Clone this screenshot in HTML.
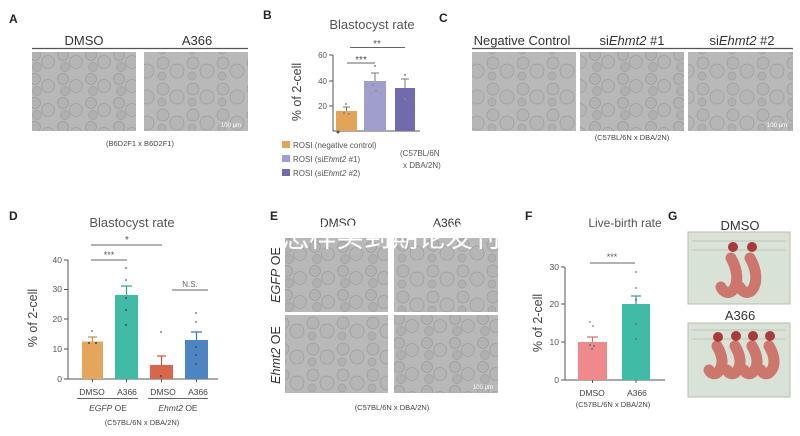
<!DOCTYPE html>
<html><head><meta charset="utf-8"><style>
html,body{margin:0;padding:0;background:#fff;}
svg{display:block;}
text{font-family:"Liberation Sans","Noto Sans CJK SC",sans-serif;}
</style></head><body>
<svg width="800" height="436" viewBox="0 0 800 436" xmlns="http://www.w3.org/2000/svg">
<defs>
<pattern id="emb" width="28" height="24" patternUnits="userSpaceOnUse">
<rect width="28" height="24" fill="#b8b8b8"/>
<circle cx="7" cy="7" r="5.5" fill="#b2b2b2" stroke="#9c9c9c" stroke-width="0.7"/>
<circle cx="20" cy="14" r="6.5" fill="#b5b5b5" stroke="#9e9e9e" stroke-width="0.7"/>
<circle cx="9" cy="19" r="4.5" fill="#afafaf" stroke="#a0a0a0" stroke-width="0.7"/>
</pattern>
<pattern id="emb2" width="30" height="26" patternUnits="userSpaceOnUse" patternTransform="translate(5,3)">
<rect width="30" height="26" fill="#b9b9b9"/>
<circle cx="8" cy="8" r="6" fill="#b4b4b4" stroke="#9c9c9c" stroke-width="0.7"/>
<circle cx="22" cy="16" r="7" fill="#b6b6b6" stroke="#9c9c9c" stroke-width="0.7"/>
<circle cx="7" cy="21" r="4" fill="#b0b0b0" stroke="#a0a0a0" stroke-width="0.7"/>
</pattern>
</defs>

<!-- Panel A -->
<text x="9" y="23" font-size="12" font-weight="bold" fill="#222">A</text>
<text x="84" y="45" font-size="13" fill="#333" text-anchor="middle">DMSO</text>
<text x="197" y="45" font-size="13" fill="#333" text-anchor="middle">A366</text>
<line x1="32" y1="48.5" x2="248" y2="48.5" stroke="#555" stroke-width="1.2"/>
<rect x="32" y="52" width="104" height="79" fill="url(#emb)"/>
<rect x="144" y="52" width="104" height="79" fill="url(#emb2)"/>
<text x="231" y="127" font-size="6" fill="#fff" text-anchor="middle">100 μm</text>
<text x="140" y="146" font-size="7.5" fill="#444" text-anchor="middle">(B6D2F1 x B6D2F1)</text>

<!-- Panel B -->
<text x="263" y="19" font-size="12" font-weight="bold" fill="#222">B</text>
<text x="372" y="29" font-size="13" fill="#555" text-anchor="middle">Blastocyst rate</text>
<text transform="translate(301,92) rotate(-90)" font-size="12.5" fill="#444" text-anchor="middle">% of 2-cell</text>
<g stroke="#555" stroke-width="1">
<line x1="333" y1="55" x2="333" y2="131"/>
<line x1="329" y1="55" x2="333" y2="55"/>
<line x1="329" y1="81" x2="333" y2="81"/>
<line x1="329" y1="106" x2="333" y2="106"/>
<line x1="333" y1="131" x2="420" y2="131"/>
</g>
<g font-size="8" fill="#555" text-anchor="end">
<text x="327" y="58">60</text><text x="327" y="84">40</text><text x="327" y="109">20</text>
</g>
<rect x="336" y="111" width="21" height="20" fill="#e4a458"/>
<rect x="364" y="81" width="22" height="50" fill="#a09fcc"/>
<rect x="395" y="88" width="20" height="43" fill="#6f6cae"/>
<g stroke="#777" stroke-width="1">
<line x1="346.5" y1="111" x2="346.5" y2="107"/><line x1="343" y1="107" x2="350" y2="107"/>
<line x1="375" y1="81" x2="375" y2="73"/><line x1="371" y1="73" x2="379" y2="73"/>
<line x1="405" y1="88" x2="405" y2="79"/><line x1="401" y1="79" x2="409" y2="79"/>
</g>
<g fill="#888">
<circle cx="346" cy="104" r="1"/><circle cx="344" cy="113" r="1"/><circle cx="349" cy="114" r="1"/>
<circle cx="375" cy="66" r="1"/><circle cx="373" cy="85" r="1"/><circle cx="376" cy="91" r="1"/>
<circle cx="405" cy="75" r="1"/><circle cx="405" cy="99" r="1"/>
<circle cx="338" cy="132" r="1.5" fill="#555"/>
</g>
<line x1="347" y1="63" x2="375" y2="63" stroke="#666" stroke-width="1"/>
<text x="361" y="63" font-size="10" fill="#555" text-anchor="middle">***</text>
<line x1="350" y1="47.5" x2="405" y2="47.5" stroke="#666" stroke-width="1"/>
<text x="377" y="47" font-size="10" fill="#555" text-anchor="middle">**</text>
<rect x="282" y="141" width="8" height="7" fill="#e4a458"/>
<rect x="282" y="155" width="8" height="7" fill="#a09fcc"/>
<rect x="282" y="169" width="8" height="7" fill="#6f6cae"/>
<g font-size="8" fill="#555">
<text x="293" y="148">ROSI (negative control)</text>
<text x="293" y="162">ROSI (si<tspan font-style="italic">Ehmt2</tspan> #1)</text>
<text x="293" y="176">ROSI (si<tspan font-style="italic">Ehmt2</tspan> #2)</text>
<text x="400" y="156">(C57BL/6N</text>
<text x="403" y="168">x DBA/2N)</text>
</g>

<!-- Panel C -->
<text x="439" y="22" font-size="12" font-weight="bold" fill="#222">C</text>
<text x="522" y="45" font-size="13" fill="#333" text-anchor="middle">Negative Control</text>
<text x="632" y="45" font-size="13" fill="#333" text-anchor="middle">si<tspan font-style="italic">Ehmt2</tspan> #1</text>
<text x="742" y="45" font-size="13" fill="#333" text-anchor="middle">si<tspan font-style="italic">Ehmt2</tspan> #2</text>
<line x1="472" y1="48.5" x2="793" y2="48.5" stroke="#555" stroke-width="1.2"/>
<rect x="472" y="52" width="104" height="79" fill="url(#emb2)"/>
<rect x="580" y="52" width="104" height="79" fill="url(#emb)"/>
<rect x="688" y="52" width="105" height="79" fill="url(#emb2)"/>
<text x="777" y="127" font-size="6" fill="#fff" text-anchor="middle">100 μm</text>
<text x="632" y="140" font-size="7.5" fill="#444" text-anchor="middle">(C57BL/6N x DBA/2N)</text>

<!-- Panel D -->
<text x="9" y="220" font-size="12" font-weight="bold" fill="#222">D</text>
<text x="132" y="227" font-size="13" fill="#555" text-anchor="middle">Blastocyst rate</text>
<text transform="translate(37,318) rotate(-90)" font-size="12.5" fill="#444" text-anchor="middle">% of 2-cell</text>
<g stroke="#555" stroke-width="1">
<line x1="68" y1="260" x2="68" y2="379"/>
<line x1="64" y1="260" x2="68" y2="260"/><line x1="64" y1="289.5" x2="68" y2="289.5"/>
<line x1="64" y1="319" x2="68" y2="319"/><line x1="64" y1="349" x2="68" y2="349"/>
<line x1="64" y1="379" x2="68" y2="379"/>
<line x1="68" y1="379" x2="218" y2="379"/>
<line x1="92.5" y1="379" x2="92.5" y2="382"/><line x1="126.5" y1="379" x2="126.5" y2="382"/>
<line x1="161.5" y1="379" x2="161.5" y2="382"/><line x1="196.5" y1="379" x2="196.5" y2="382"/>
</g>
<g font-size="8.5" fill="#555" text-anchor="end">
<text x="62" y="263">40</text><text x="62" y="292">30</text><text x="62" y="322">20</text>
<text x="62" y="352">10</text><text x="62" y="382">0</text>
</g>
<rect x="82" y="341.5" width="21" height="37.5" fill="#e3a65c"/>
<rect x="115" y="295" width="23" height="84" fill="#40bba6"/>
<rect x="150" y="365" width="23" height="14" fill="#d9664b"/>
<rect x="185" y="340" width="23" height="39" fill="#4c84c4"/>
<g stroke-width="1.2">
<line x1="92.5" y1="341.5" x2="92.5" y2="337" stroke="#c68a40"/><line x1="88" y1="337" x2="97" y2="337" stroke="#c68a40"/>
<line x1="126.5" y1="295" x2="126.5" y2="286" stroke="#2e9f8c"/><line x1="121" y1="286" x2="132" y2="286" stroke="#2e9f8c"/>
<line x1="161.5" y1="365" x2="161.5" y2="356" stroke="#c8553c"/><line x1="157" y1="356" x2="166" y2="356" stroke="#c8553c"/>
<line x1="196.5" y1="340" x2="196.5" y2="332" stroke="#3d72b0"/><line x1="191" y1="332" x2="202" y2="332" stroke="#3d72b0"/>
</g>
<g fill="#555">
<circle cx="92" cy="331" r="1.1" fill="#999"/><circle cx="89" cy="343" r="1.1"/><circle cx="96" cy="343" r="1.1"/>
<circle cx="126" cy="268" r="1.1" fill="#999"/><circle cx="126" cy="280" r="1.1" fill="#999"/><circle cx="126" cy="298" r="1.1"/>
<circle cx="126" cy="310" r="1.1"/><circle cx="126" cy="325" r="1.1"/>
<circle cx="161" cy="332" r="1.1" fill="#999"/><circle cx="161" cy="376" r="1.1"/>
<circle cx="196" cy="313" r="1.1" fill="#999"/><circle cx="196" cy="322" r="1.1" fill="#999"/><circle cx="196" cy="347" r="1.1"/>
<circle cx="196" cy="355" r="1.1"/><circle cx="196" cy="364" r="1.1"/>
</g>
<g stroke="#666" stroke-width="1">
<line x1="91" y1="260" x2="127" y2="260"/>
<line x1="91" y1="245" x2="162" y2="245"/>
<line x1="172" y1="290" x2="208" y2="290"/>
</g>
<text x="109" y="258" font-size="9" fill="#555" text-anchor="middle">***</text>
<text x="127" y="243" font-size="10" fill="#555" text-anchor="middle">*</text>
<text x="190" y="287" font-size="8" fill="#666" text-anchor="middle">N.S.</text>
<g font-size="8.5" fill="#444" text-anchor="middle">
<text x="92" y="395">DMSO</text><text x="127" y="395">A366</text>
<text x="163" y="395">DMSO</text><text x="198" y="395">A366</text>
</g>
<g stroke="#666" stroke-width="0.9">
<line x1="77" y1="398.5" x2="138" y2="398.5"/><line x1="148" y1="398.5" x2="208" y2="398.5"/>
</g>
<g font-size="8.5" fill="#444" text-anchor="middle">
<text x="108" y="411"><tspan font-style="italic">EGFP</tspan> OE</text>
<text x="178" y="411"><tspan font-style="italic">Ehmt2</tspan> OE</text>
</g>
<text x="142" y="425" font-size="7.5" fill="#444" text-anchor="middle">(C57BL/6N x DBA/2N)</text>

<!-- Panel E -->
<text x="270" y="220" font-size="12" font-weight="bold" fill="#222">E</text>
<text x="338" y="227" font-size="12" fill="#333" text-anchor="middle">DMSO</text>
<text x="447" y="227" font-size="12" fill="#333" text-anchor="middle">A366</text>
<rect x="285" y="238" width="103" height="74" fill="url(#emb)"/>
<rect x="394" y="238" width="104" height="74" fill="url(#emb2)"/>
<rect x="285" y="315" width="103" height="78" fill="url(#emb2)"/>
<rect x="394" y="315" width="104" height="78" fill="url(#emb)"/>
<text x="483" y="389" font-size="6" fill="#fff" text-anchor="middle">100 μm</text>
<text transform="translate(280,275) rotate(-90)" font-size="12.5" fill="#333" text-anchor="middle"><tspan font-style="italic">EGFP</tspan> OE</text>
<text transform="translate(280,355) rotate(-90)" font-size="12.5" fill="#333" text-anchor="middle"><tspan font-style="italic">Ehmt2</tspan> OE</text>
<text x="392" y="410" font-size="7.5" fill="#444" text-anchor="middle">(C57BL/6N x DBA/2N)</text>
<text x="282" y="247" font-size="27" fill="#fff" textLength="218" lengthAdjust="spacingAndGlyphs">怎样买到期论发刊</text>

<!-- Panel F -->
<text x="525" y="220" font-size="12" font-weight="bold" fill="#222">F</text>
<text x="625" y="227" font-size="12" fill="#555" text-anchor="middle">Live-birth rate</text>
<text transform="translate(542,323) rotate(-90)" font-size="12.5" fill="#444" text-anchor="middle">% of 2-cell</text>
<g stroke="#555" stroke-width="1">
<line x1="565" y1="267" x2="565" y2="380"/>
<line x1="561" y1="267" x2="565" y2="267"/><line x1="561" y1="304" x2="565" y2="304"/>
<line x1="561" y1="342" x2="565" y2="342"/><line x1="561" y1="380" x2="565" y2="380"/>
<line x1="565" y1="380" x2="665" y2="380"/>
<line x1="592.5" y1="380" x2="592.5" y2="383"/><line x1="636" y1="380" x2="636" y2="383"/>
</g>
<g font-size="8.5" fill="#555" text-anchor="end">
<text x="559" y="270">30</text><text x="559" y="307">20</text><text x="559" y="345">10</text><text x="559" y="383">0</text>
</g>
<rect x="578" y="342" width="29" height="38" fill="#ee8a8c"/>
<rect x="622" y="304" width="28" height="76" fill="#40bba6"/>
<g stroke-width="1.2">
<line x1="592.5" y1="342" x2="592.5" y2="337" stroke="#d86a6e"/><line x1="587" y1="337" x2="598" y2="337" stroke="#d86a6e"/>
<line x1="636" y1="304" x2="636" y2="296" stroke="#2e9f8c"/><line x1="631" y1="296" x2="641" y2="296" stroke="#2e9f8c"/>
</g>
<g fill="#777">
<circle cx="590" cy="322" r="1.1" fill="#aaa"/><circle cx="593" cy="326" r="1.1" fill="#aaa"/>
<circle cx="590" cy="345" r="1.1"/><circle cx="594" cy="346" r="1.1"/><circle cx="592" cy="349" r="1.1"/>
<circle cx="636" cy="272" r="1.1" fill="#aaa"/><circle cx="636" cy="288" r="1.1" fill="#aaa"/>
<circle cx="636" cy="300" r="1.1"/><circle cx="636" cy="324" r="1.1"/><circle cx="636" cy="339" r="1.1"/>
</g>
<line x1="590" y1="263" x2="635" y2="263" stroke="#666" stroke-width="1"/>
<text x="612" y="260" font-size="9" fill="#555" text-anchor="middle">***</text>
<g font-size="8.5" fill="#444" text-anchor="middle">
<text x="592" y="396">DMSO</text><text x="637" y="396">A366</text>
</g>
<text x="613" y="407" font-size="7.5" fill="#444" text-anchor="middle">(C57BL/6N x DBA/2N)</text>

<!-- Panel G -->
<text x="668" y="220" font-size="12" font-weight="bold" fill="#222">G</text>
<text x="740" y="230" font-size="13" fill="#333" text-anchor="middle">DMSO</text>
<rect x="688" y="232" width="102" height="72" fill="#d9e2d6" stroke="#b7bfb3" stroke-width="1"/>
<g stroke="#a3ab9f" stroke-width="0.6">
<line x1="692" y1="241" x2="786" y2="241"/>
<line x1="692" y1="250" x2="786" y2="250"/>
</g>
<g fill="none" stroke="#cc766c" stroke-width="11" stroke-linecap="round">
<path d="M731,258 C738,270 739,284 732,291 C728,294 723,292 721,287"/>
<path d="M750,258 C757,270 758,284 751,291 C747,294 742,292 740,287"/>
</g>
<circle cx="733" cy="247" r="5" fill="#a83a3a"/>
<circle cx="752" cy="247" r="5" fill="#a83a3a"/>
<text x="740" y="320" font-size="13" fill="#333" text-anchor="middle">A366</text>
<rect x="688" y="323" width="102" height="74" fill="#d9e2d6" stroke="#b7bfb3" stroke-width="1"/>
<g stroke="#a3ab9f" stroke-width="0.6">
<line x1="692" y1="330" x2="786" y2="330"/>
<line x1="692" y1="339" x2="786" y2="339"/>
</g>
<g fill="none" stroke="#cc766c" stroke-width="11" stroke-linecap="round">
<path d="M717,346 C723,356 724,366 718,372 C715,375 711,374 709,370"/>
<path d="M735,346 C741,356 742,366 736,372 C733,375 729,374 727,370"/>
<path d="M752,346 C758,356 759,366 753,372 C750,375 746,374 744,370"/>
<path d="M769,346 C775,356 776,366 770,372 C767,375 763,374 761,370"/>
</g>
<circle cx="718" cy="337" r="5" fill="#a83a3a"/>
<circle cx="736" cy="336" r="5" fill="#a83a3a"/>
<circle cx="753" cy="336" r="5" fill="#a83a3a"/>
<circle cx="770" cy="336" r="5" fill="#a83a3a"/>
</svg>
</body></html>
